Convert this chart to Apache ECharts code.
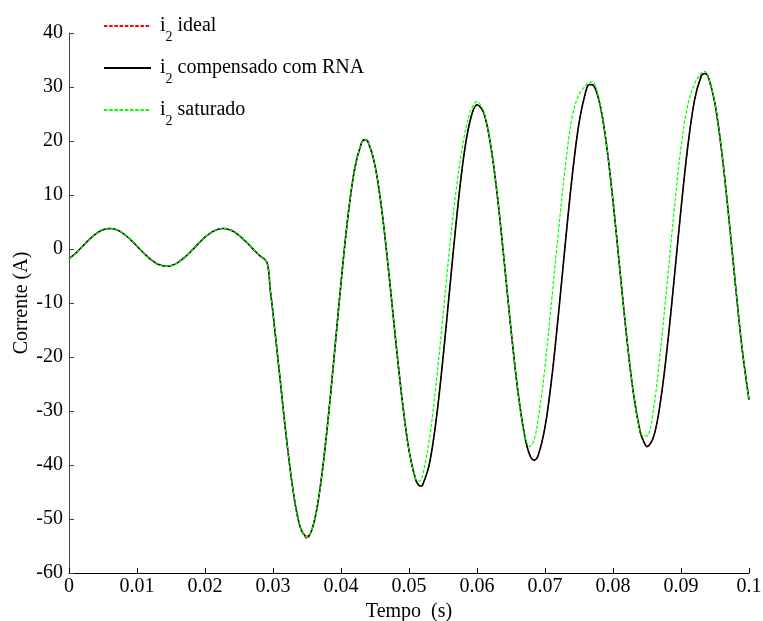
<!DOCTYPE html>
<html>
<head>
<meta charset="utf-8">
<script src="https://cdn.jsdelivr.net/npm/echarts@6.0.0/dist/echarts.min.js"></script>
<style>
html,body{margin:0;padding:0;background:#fff;}
#chart{width:763px;height:621px;}
</style>
</head>
<body>
<div id="chart"></div>
<script>
// Time samples (s)
const tempo = [
  0, 0.001, 0.002, 0.003, 0.004, 0.005, 0.006, 0.007, 0.008, 0.009,
  0.010, 0.011, 0.012, 0.013, 0.014, 0.0143, 0.015, 0.016, 0.017, 0.018,
  0.019, 0.020, 0.021, 0.022, 0.0226, 0.023, 0.024, 0.025, 0.026, 0.027,
  0.028, 0.0291, 0.0296, 0.030, 0.031, 0.032, 0.033, 0.034, 0.035, 0.036,
  0.037, 0.038, 0.039, 0.040, 0.041, 0.042, 0.043, 0.0435, 0.044, 0.045,
  0.046, 0.047, 0.048, 0.049, 0.050, 0.051, 0.0514, 0.0517, 0.052, 0.053,
  0.054, 0.055, 0.056, 0.057, 0.058, 0.059, 0.060, 0.061, 0.062, 0.063,
  0.064, 0.065, 0.066, 0.067, 0.0678, 0.0684, 0.069, 0.070, 0.071, 0.072,
  0.073, 0.074, 0.075, 0.076, 0.0765, 0.077, 0.078, 0.079, 0.080, 0.081,
  0.082, 0.083, 0.084, 0.0845, 0.085, 0.086, 0.087, 0.088, 0.089, 0.090,
  0.091, 0.092, 0.093, 0.0935, 0.094, 0.095, 0.096, 0.097, 0.098, 0.099,
  0.100
];

// i2 ideal (A)
const i2Ideal = [
  -1.8, -0.78, 0.52, 1.79, 2.85, 3.56, 3.8, 3.55, 2.85, 1.79,
  0.52, -0.79, -1.93, -2.77, -3.17, -3.2, -3.09, -2.53, -1.57, -0.35,
  0.96, 2.18, 3.13, 3.69, 3.8, 3.77, 3.37, 2.53, 1.38, 0.08,
  -1.19, -2.4, -7.6, -11.9, -23.6, -35.3, -45.1, -51.5, -53.6, -50.8,
  -43.6, -32.8, -19.8, -6.3, 5.8, 14.8, 19.6, 20.25, 19.8, 15.5,
  7.2, -4.0, -16.4, -28.0, -37.3, -42.8, -43.7, -44.0, -43.7, -39.8,
  -31.6, -20.2, -7.2, 5.7, 16.7, 23.8, 26.7, 25.2, 19.3, 9.8,
  -2.3, -14.9, -26.2, -34.5, -38.3, -39.1, -38.2, -33.0, -23.8, -11.8,
  1.2, 13.5, 23.3, 29.2, 30.45, 30.4, 27.2, 19.75, 8.86, -3.7,
  -16.15, -26.7, -33.9, -35.6, -36.6, -34.65, -28.1, -17.9, -5.5, 7.4,
  19.0, 27.6, 32.1, 32.5, 31.9, 26.9, 17.9, 6.2, -6.55, -18.6,
  -27.9
];

// i2 compensado com RNA (A)
const i2Compensado = [
  -1.8, -0.78, 0.52, 1.79, 2.85, 3.56, 3.8, 3.55, 2.85, 1.79,
  0.52, -0.79, -1.93, -2.77, -3.17, -3.2, -3.09, -2.53, -1.57, -0.35,
  0.96, 2.18, 3.13, 3.69, 3.8, 3.77, 3.37, 2.53, 1.38, 0.08,
  -1.19, -2.4, -7.6, -11.9, -23.6, -35.3, -45.1, -51.5, -53.3, -50.8,
  -43.6, -32.8, -19.8, -6.3, 5.8, 14.8, 19.6, 20.25, 19.8, 15.5,
  7.2, -4.0, -16.4, -28.0, -37.3, -42.8, -43.7, -43.9, -43.7, -39.8,
  -31.6, -20.2, -7.2, 5.7, 16.7, 23.8, 26.7, 25.2, 19.3, 9.8,
  -2.3, -14.9, -26.2, -34.5, -38.3, -39.1, -38.2, -33.0, -23.8, -11.8,
  1.2, 13.5, 23.3, 29.2, 30.45, 30.4, 27.2, 19.75, 8.86, -3.7,
  -16.15, -26.7, -33.9, -35.6, -36.6, -34.65, -28.1, -17.9, -5.5, 7.4,
  19.0, 27.6, 32.1, 32.5, 31.9, 26.9, 17.9, 6.2, -6.55, -18.6,
  -27.9
];

// i2 saturado (A)
const i2Saturado = [
  -1.8, -0.78, 0.52, 1.79, 2.85, 3.56, 3.8, 3.55, 2.85, 1.79,
  0.52, -0.79, -1.93, -2.77, -3.17, -3.2, -3.09, -2.53, -1.57, -0.35,
  0.96, 2.18, 3.13, 3.69, 3.8, 3.77, 3.37, 2.53, 1.38, 0.08,
  -1.19, -2.4, -7.6, -11.9, -23.6, -35.3, -45.1, -51.5, -53.3, -50.8,
  -43.6, -32.8, -19.8, -6.3, 5.8, 14.8, 19.6, 20.25, 19.8, 15.5,
  7.2, -4.0, -16.4, -28.0, -37.3, -42.6, -43.0, -42.8, -42.0, -35.2,
  -24.8, -12.4, 0.6, 11.6, 20.0, 25.4, 27.3, 25.4, 19.3, 9.8,
  -2.3, -14.9, -26.2, -34.6, -36.6, -35.3, -31.5, -21.8, -9.2, 3.6,
  15.4, 24.5, 28.6, 30.3, 30.9, 30.9, 27.3, 19.75, 8.86, -3.7,
  -16.15, -26.7, -33.8, -34.6, -34.6, -29.3, -18.5, -5.8, 7.2, 18.8,
  26.7, 30.6, 32.6, 32.9, 31.9, 26.9, 17.9, 6.2, -6.55, -18.6,
  -27.9
];

const seriesNames = ['i2 ideal', 'i2 compensado com RNA', 'i2 saturado'];
const xTickValues = [0, 0.01, 0.02, 0.03, 0.04, 0.05, 0.06, 0.07, 0.08, 0.09, 0.1];
const xTickLabels = ['0', '0.01', '0.02', '0.03', '0.04', '0.05', '0.06', '0.07', '0.08', '0.09', '0.1'];
const yTickValues = [-60, -50, -40, -30, -20, -10, 0, 10, 20, 30, 40];
const yTickLabels = ['-60', '-50', '-40', '-30', '-20', '-10', '0', '10', '20', '30', '40'];

const FONT = 'Liberation Serif';

function pairs(vals) {
  return tempo.map((t, i) => [t, vals[i]]);
}
function labelFor(values, labels) {
  return function (v) {
    for (let i = 0; i < values.length; i++) {
      if (Math.abs(values[i] - v) < 1e-9) return labels[i];
    }
    return '';
  };
}
function legendItem(name, top) {
  return {
    data: [name],
    top: top,
    left: 103,
    orient: 'vertical',
    padding: 0,
    itemWidth: 47,
    itemHeight: 2,
    selectedMode: false,
    itemStyle: { opacity: 0 },
    formatter: function (n) {
      return '{g|}{n|i}{s|2}{n| ' + n.replace('i2 ', '') + '}';
    },
    textStyle: {
      rich: {
        g: { width: 4, lineHeight: 36 },
        n: { fontFamily: FONT, fontSize: 20, color: '#000', lineHeight: 25, verticalAlign: 'middle' },
        s: { fontFamily: FONT, fontSize: 14, color: '#000', lineHeight: 13, verticalAlign: 'bottom' }
      }
    }
  };
}

const chart = echarts.init(document.getElementById('chart'), null, { renderer: 'canvas' });
chart.setOption({
  animation: false,
  backgroundColor: '#fff',
  grid: { left: 69, right: 14, top: 33, bottom: 48, containLabel: false, outerBoundsMode: 'none' },
  legend: [
    legendItem(seriesNames[0], 16),
    legendItem(seriesNames[1], 58),
    legendItem(seriesNames[2], 100)
  ],
  xAxis: {
    type: 'value',
    min: 0,
    max: 0.1,
    interval: 0.01,
    name: 'Tempo  (s)',
    nameLocation: 'middle',
    nameGap: 24,
    nameTextStyle: { fontFamily: FONT, fontSize: 20, color: '#000' },
    axisLine: { show: true, onZero: false, lineStyle: { color: '#000', width: 1 } },
    axisTick: { show: true, inside: true, length: 5, lineStyle: { color: '#000' } },
    axisLabel: {
      fontFamily: FONT, fontSize: 20, color: '#000', margin: 4,
      showMinLabel: true, showMaxLabel: true,
      formatter: labelFor(xTickValues, xTickLabels)
    },
    splitLine: { show: false }
  },
  yAxis: {
    type: 'value',
    min: -60,
    max: 40,
    interval: 10,
    name: 'Corrente (A)',
    nameLocation: 'middle',
    nameGap: 37,
    nameMoveOverlap: false,
    nameTextStyle: { fontFamily: FONT, fontSize: 20, color: '#000' },
    axisLine: { show: true, onZero: false, lineStyle: { color: '#444', width: 1 } },
    axisTick: { show: true, inside: true, length: 5, lineStyle: { color: '#444' } },
    axisLabel: {
      fontFamily: FONT, fontSize: 20, color: '#000', margin: 6,
      showMinLabel: true, showMaxLabel: true,
      formatter: labelFor(yTickValues, yTickLabels)
    },
    splitLine: { show: false }
  },
  series: [
    {
      name: seriesNames[0], type: 'line', data: pairs(i2Ideal),
      symbol: 'none', smooth: 0.35, z: 2,
      lineStyle: { color: '#ff0000', width: 1.2, type: [3.5, 1.7] },
      itemStyle: { color: '#ff0000' }
    },
    {
      name: seriesNames[1], type: 'line', data: pairs(i2Compensado),
      symbol: 'none', smooth: 0.35, z: 3,
      lineStyle: { color: '#000000', width: 1.6, type: 'solid' },
      itemStyle: { color: '#000000' }
    },
    {
      name: seriesNames[2], type: 'line', data: pairs(i2Saturado),
      symbol: 'none', smooth: 0.35, z: 4,
      lineStyle: { color: '#00ff00', width: 1.2, type: [3.5, 1.7] },
      itemStyle: { color: '#00ff00' }
    }
  ]
});
</script>
</body>
</html>
